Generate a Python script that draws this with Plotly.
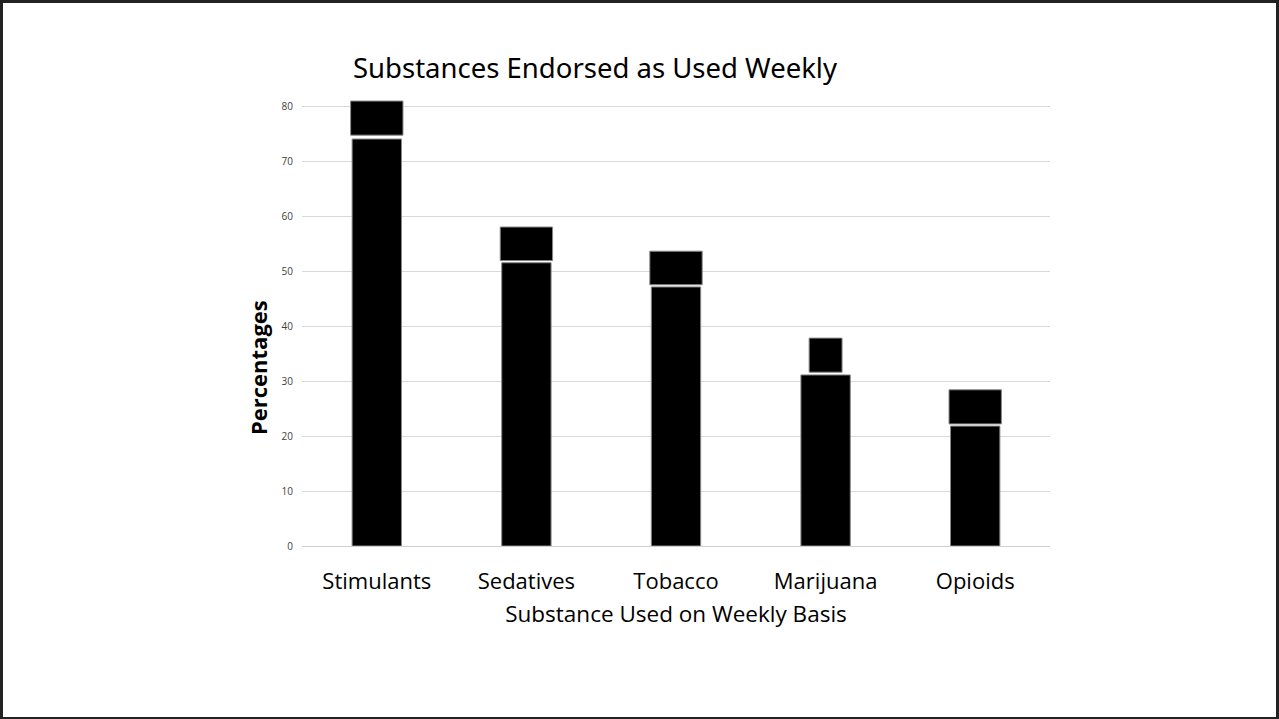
import plotly.graph_objects as go

categories = ["Stimulants", "Sedatives", "Tobacco", "Marijuana", "Opioids"]
base_values = [74.0, 51.5, 47.1, 31.1, 21.8]
cap_bottom = [74.7, 51.9, 47.5, 31.6, 22.2]
cap_top = [80.9, 58.0, 53.6, 37.8, 28.4]
cap_widths = [0.35, 0.35, 0.35, 0.22, 0.35]
y_ticks = [0, 10, 20, 30, 40, 50, 60, 70, 80]

fig = go.Figure()
fig.add_trace(go.Bar(
    x=categories, y=base_values, width=0.33,
    marker=dict(color="black", line=dict(color="#888888", width=1)),
    showlegend=False, hoverinfo="y"))
fig.add_trace(go.Bar(
    x=categories, base=cap_bottom,
    y=[t - b for t, b in zip(cap_top, cap_bottom)],
    width=cap_widths,
    marker=dict(color="black", line=dict(color="#888888", width=1)),
    showlegend=False))

L, R, T, B = 302, 229, 95, 173
W, H = 1279, 719
pw, ph = W - L - R, H - T - B
x0 = -(L - 1.5) / pw
x1 = 1 + (R - 1.5) / pw
y0 = -(B - 0.5) / ph
y1 = 1 + (T - 1.5) / ph

fig.update_layout(
    width=W, height=H,
    margin=dict(l=L, r=R, t=T, b=B),
    barmode="overlay",
    plot_bgcolor="white", paper_bgcolor="white",
    font=dict(family="Open Sans, DejaVu Sans", color="black"),
    title=dict(text="Substances Endorsed as Used Weekly", x=595 / W, xanchor="center",
               y=1 - 68 / H, yanchor="middle",
               font=dict(size=27.5, family="Noto Sans, Open Sans", color="black")),
    xaxis=dict(range=[-0.5, 4.5], tickfont=dict(size=22), showgrid=False,
               showline=False, ticks="", ticklabelstandoff=20,
               title=dict(text="Substance Used on Weekly Basis", font=dict(size=22.5), standoff=12)),
    yaxis=dict(range=[0, 82], tickvals=y_ticks, tickfont=dict(size=10, color="#404040"),
               showgrid=True, gridcolor="#d9d9d9", gridwidth=1, zeroline=True,
               zerolinecolor="#d0d0d0", zerolinewidth=1, ticks="", ticklabelstandoff=8),
    annotations=[
        dict(text="<b>Percentages</b>", xref="paper", yref="paper",
             x=(258 - L) / pw, y=(546 - 368) / ph, xanchor="center", yanchor="middle",
             textangle=-90, showarrow=False, font=dict(size=22, color="black")),
    ],
    shapes=[
        dict(type="rect", xref="paper", yref="paper", x0=x0, x1=x1, y0=y0, y1=y1,
             line=dict(color="#222222", width=3), fillcolor="rgba(0,0,0,0)", layer="above"),
    ],
)

fig.write_html("out.html")
